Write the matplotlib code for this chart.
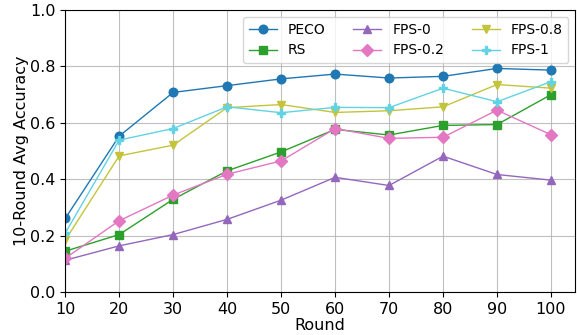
import matplotlib
matplotlib.use("Agg")
import matplotlib.pyplot as plt

rounds = [10, 20, 30, 40, 50, 60, 70, 80, 90, 100]
peco = [0.261, 0.553, 0.708, 0.732, 0.756, 0.773, 0.759, 0.765, 0.793, 0.787]
rs = [0.145, 0.204, 0.329, 0.430, 0.497, 0.577, 0.557, 0.591, 0.594, 0.700]
fps_0 = [0.113, 0.164, 0.204, 0.258, 0.326, 0.407, 0.378, 0.482, 0.417, 0.397]
fps_02 = [0.120, 0.253, 0.344, 0.418, 0.465, 0.580, 0.545, 0.549, 0.645, 0.558]
fps_08 = [0.184, 0.483, 0.521, 0.654, 0.665, 0.637, 0.643, 0.657, 0.736, 0.723]
fps_1 = [0.209, 0.539, 0.580, 0.657, 0.636, 0.655, 0.654, 0.723, 0.675, 0.746]

series = [
    ("PECO", peco, "tab:blue", "o"),
    ("RS", rs, "tab:green", "s"),
    ("FPS-0", fps_0, "tab:purple", "^"),
    ("FPS-0.2", fps_02, "tab:pink", "D"),
    ("FPS-0.8", fps_08, "#c4c43c", "v"),
    ("FPS-1", fps_1, "#62d3e2", "P"),
]

fig = plt.figure(figsize=(5.77, 3.35), dpi=100)
ax = fig.add_axes([0.113, 0.128, 0.884, 0.842])
for name, vals, color, marker in series:
    ax.plot(rounds, vals, color=color, marker=marker, markersize=6.2,
            linewidth=1, label=name)

ax.set_xlim(left=10)
ax.set_ylim(0, 1.0)
ax.set_xticks(rounds)
ax.tick_params(labelsize=11.5)
ax.set_xlabel("Round", fontsize=11.5, labelpad=0.5)
ax.set_ylabel("10-Round Avg Accuracy", fontsize=11.5, labelpad=1)
ax.grid(True, alpha=0.8)
ax.legend(ncol=3, loc="upper right", fontsize=10)

fig.savefig("out.png", dpi=100)
